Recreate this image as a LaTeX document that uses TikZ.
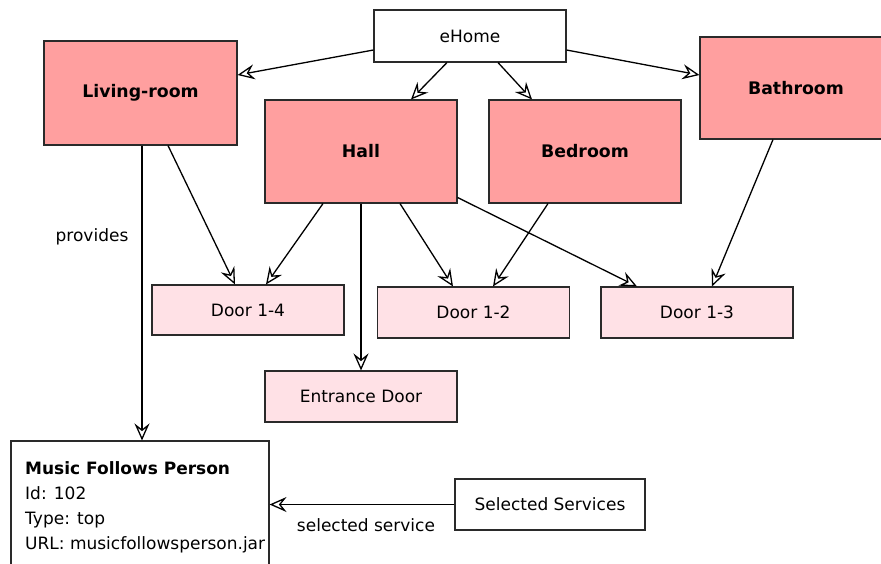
\documentclass[tikz,border=0pt]{standalone}
\usepackage{fontspec}
\setmainfont{DejaVu Sans}
\usetikzlibrary{arrows.meta}
\definecolor{roomred}{HTML}{FF9F9F}
\definecolor{doorpink}{HTML}{FFE1E6}
\definecolor{edge}{HTML}{2A2A2A}
\tikzset{
  >={Stealth[open, length=17pt, width=15pt, inset=6pt]},
  base/.style={draw=edge, line width=1.1pt, inner sep=0pt, font=\fontsize{17}{20}\selectfont},
  roombox/.style={base, fill=roomred, minimum width=192pt, minimum height=103pt, font=\fontsize{17.3}{20}\selectfont\bfseries},
  doorbox/.style={base, fill=doorpink, minimum width=192pt, minimum height=51pt},
  plainbox/.style={base, fill=white, minimum width=192pt, minimum height=52pt},
  link/.style={draw=black, line width=1.3pt, ->},
  lbl/.style={font=\fontsize{17}{20}\selectfont, inner sep=0pt}
}
\begin{document}
\begin{tikzpicture}[x=1pt, y=-1pt]
  \clip (0,0) rectangle (881,563);
  \fill[white] (0,0) rectangle (881,563);

  % top level and rooms
  \node[plainbox] (ehome) at (470,36) {eHome};
  \node[roombox, minimum width=193pt, minimum height=104pt] (living) at (140.5,93) {Living-room};
  \node[roombox] (hall) at (361,151.5) {Hall};
  \node[roombox] (bedroom) at (585,151.5) {Bedroom};
  \node[roombox, minimum height=102pt] (bathroom) at (796,88) {Bathroom};

  % doors
  \node[doorbox, minimum height=50pt] (door14) at (248,310) {Door 1-4};
  \node[doorbox] (door12) at (473.5,312.5) {Door 1-2};
  \node[doorbox] (door13) at (697,312.5) {Door 1-3};
  \node[doorbox] (entrance) at (361,396.5) {Entrance Door};

  % service boxes
  \node[base, fill=white, minimum width=258pt, minimum height=140pt] (music) at (140,511) {};
  \node[anchor=north west, inner sep=0pt, align=left, font=\fontsize{17}{25}\selectfont]
        (musictext) at (25,461)
        {\textbf{Music Follows Person}\\Id: 102\\Type: top\\URL: musicfollowsperson.jar};
  \node[plainbox, minimum width=190pt, minimum height=51pt] (selected) at (550,504.5) {Selected Services};

  % containment links
  \draw[link] ([yshift=-14pt]ehome.west) -- ([yshift=18pt]living.east);
  \draw[link] ([xshift=-23pt]ehome.south) -- ([xshift=50pt]hall.north);
  \draw[link] ([xshift=28pt]ehome.south) -- ([xshift=-53pt]bedroom.north);
  \draw[link] ([yshift=-14pt]ehome.east) -- ([yshift=13pt]bathroom.west);

  \draw[link] ([xshift=27.5pt]living.south) -- ([xshift=-13pt]door14.north);
  \draw[link] ([xshift=-38pt]hall.south) -- ([xshift=18pt]door14.north);
  \draw[link] ([xshift=39pt]hall.south) -- ([xshift=-20.5pt]door12.north);
  \draw[link] ([xshift=-37pt]bedroom.south) -- ([xshift=19.5pt]door12.north);
  \draw[link] ([yshift=-46pt]hall.east) -- ([xshift=-60pt]door13.north);
  \draw[link] ([xshift=-23pt]bathroom.south) -- ([xshift=15pt]door13.north);
  \draw[link] (hall.south) -- (entrance.north);

  % service links
  \draw[link] ([xshift=1.5pt]living.south) -- ([xshift=1.5pt]living.south |- music.north)
    node[lbl, pos=0.31, left=13pt] (provides) {provides};
  \draw[link] (selected.west) -- (selected.west -| music.east)
    node[lbl, pos=0.5, below=13pt, xshift=4pt] (selsvc) {selected service};
\end{tikzpicture}
\end{document}
